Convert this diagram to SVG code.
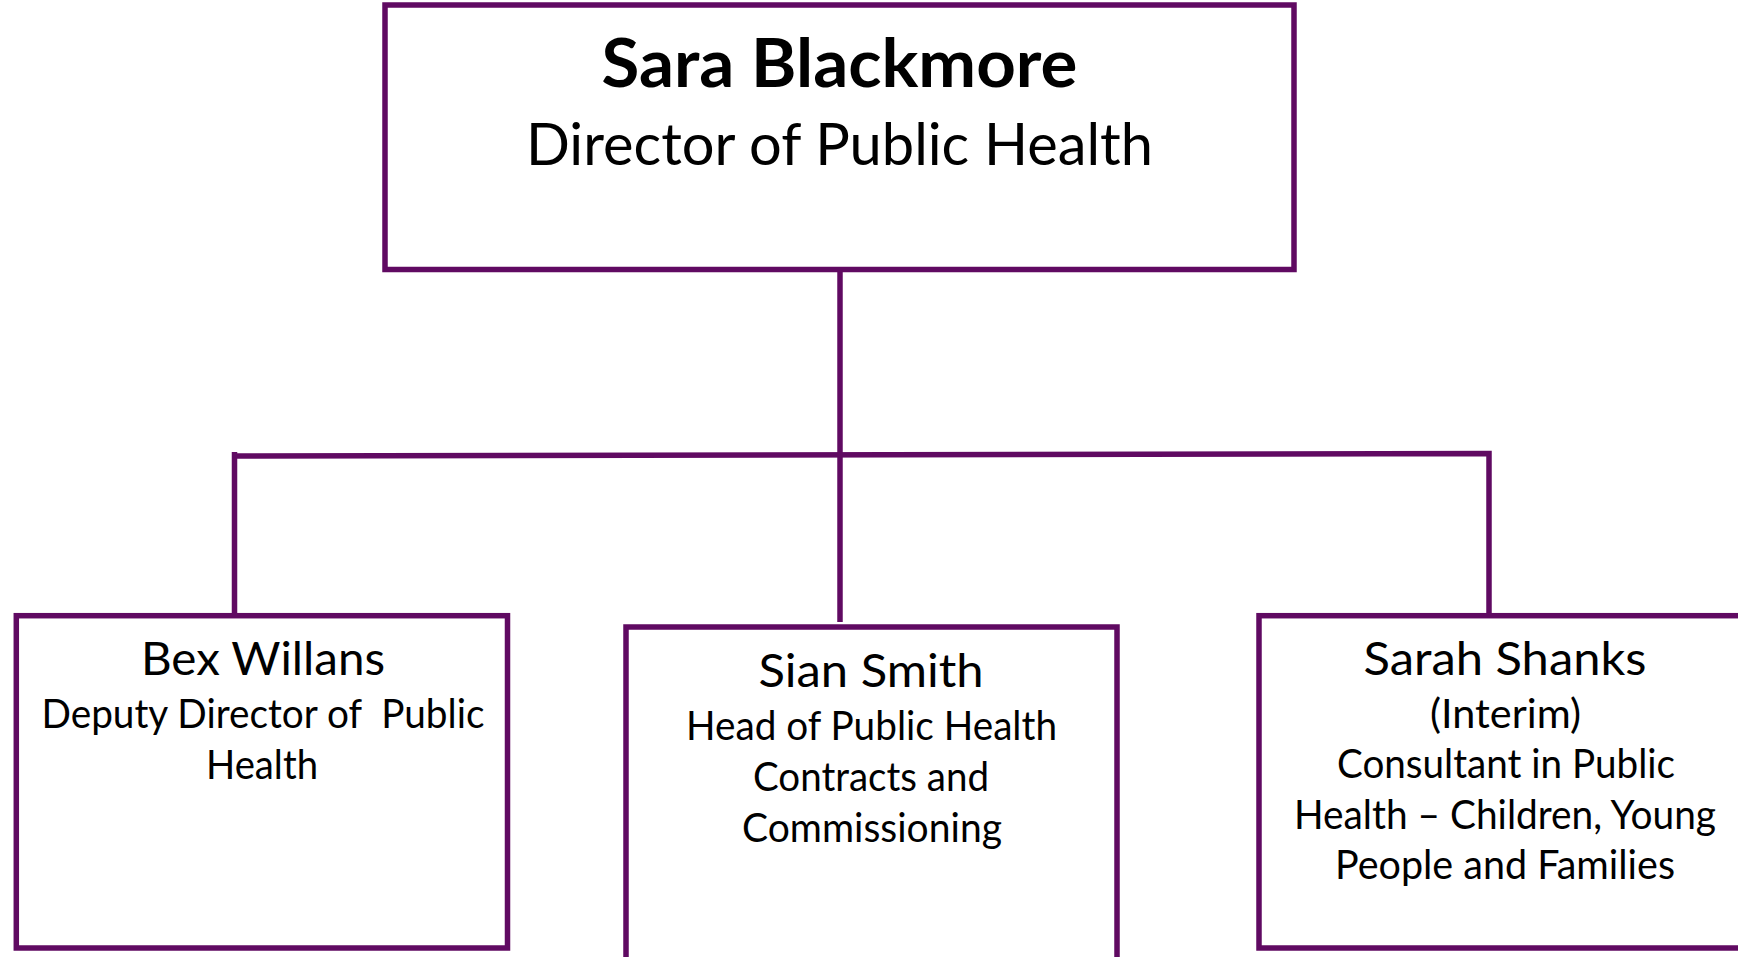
<svg xmlns="http://www.w3.org/2000/svg" width="1738" height="957" viewBox="0 0 1738 957">
<style>
.box{fill:#ffffff;stroke:#600a62;stroke-width:5.5}
.con{fill:none;stroke:#600a62;stroke-width:5.5}
text{font-family:Lato,"Open Sans","Liberation Sans",sans-serif;fill:#000;text-anchor:middle}
.nm{font-size:47px}
.sb{font-size:40px}
</style>
<rect width="1738" height="957" fill="#fff"/>
<g id="connectors">
<path class="con" d="M840 269.5 V622"/>
<path class="con" d="M234.5 615 V452 M231.8 456 L1489 453.5 V615"/>
</g>
<g id="director">
<rect class="box" x="385" y="5" width="909" height="264.5"/>
<text x="839.5" y="87" font-size="67" font-weight="bold" textLength="476" lengthAdjust="spacingAndGlyphs">Sara Blackmore</text>
<text x="839.5" y="165" font-size="58" textLength="627" lengthAdjust="spacingAndGlyphs">Director of Public Health</text>
</g>
<g id="bex">
<rect class="box" x="16.3" y="615.7" width="491.2" height="332.3"/>
<text class="nm" x="263" y="675" textLength="244" lengthAdjust="spacingAndGlyphs">Bex Willans</text>
<text class="sb" x="263" y="728" textLength="443" lengthAdjust="spacingAndGlyphs" xml:space="preserve">Deputy Director of  Public</text>
<text class="sb" x="262" y="779" textLength="112" lengthAdjust="spacingAndGlyphs">Health</text>
</g>
<g id="sian">
<rect class="box" x="626" y="627" width="491" height="345"/>
<text class="nm" x="871" y="687" textLength="225" lengthAdjust="spacingAndGlyphs">Sian Smith</text>
<text class="sb" x="871.5" y="740" textLength="371" lengthAdjust="spacingAndGlyphs">Head of Public Health</text>
<text class="sb" x="871" y="791" textLength="236" lengthAdjust="spacingAndGlyphs">Contracts and</text>
<text class="sb" x="872" y="842" textLength="260" lengthAdjust="spacingAndGlyphs">Commissioning</text>
</g>
<g id="sarah">
<rect class="box" x="1259" y="615.7" width="490" height="332.3"/>
<text class="nm" x="1505" y="675" textLength="283" lengthAdjust="spacingAndGlyphs">Sarah Shanks</text>
<text class="sb" x="1505.5" y="728" textLength="151" lengthAdjust="spacingAndGlyphs">(Interim)</text>
<text class="sb" x="1506" y="778" textLength="338" lengthAdjust="spacingAndGlyphs">Consultant in Public</text>
<text class="sb" x="1505" y="829" textLength="422" lengthAdjust="spacingAndGlyphs">Health – Children, Young</text>
<text class="sb" x="1505" y="879" textLength="340" lengthAdjust="spacingAndGlyphs">People and Families</text>
</g>
</svg>
